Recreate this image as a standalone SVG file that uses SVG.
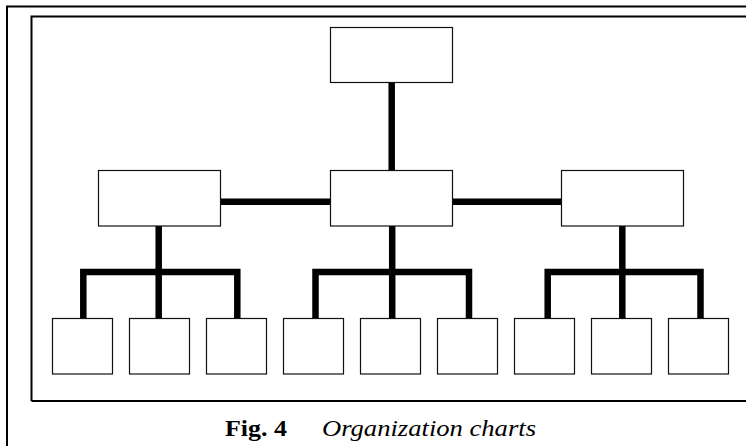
<svg xmlns="http://www.w3.org/2000/svg" width="746" height="446" viewBox="0 0 746 446">
<style>
.frame{fill:none;stroke:#000;stroke-width:2}
.box{fill:#fff;stroke:#111;stroke-width:1.2}
.conn{fill:none;stroke:#000;stroke-width:6.5;stroke-linejoin:miter;stroke-linecap:butt}
.cap{font-size:24px;fill:#000}
</style>
<rect width="746" height="446" fill="#fff"/>
<path class="frame" d="M7 446 V6.5 H746"/>
<path class="frame" d="M31.5 401 V16.5 H746 M31.5 401 H746"/>
<g id="connectors">
<path class="conn" d="M391.7 82 V170"/>
<path class="conn" d="M221 201.7 H330 M453 201.7 H561"/>
<path class="conn" d="M158.7 226 V272"/>
<path class="conn" d="M83.3 318 V272 H237.3 V318 M158.7 272 V318"/>
<path class="conn" d="M392.2 226 V272"/>
<path class="conn" d="M315.5 318 V272 H469 V318 M392.2 272 V318"/>
<path class="conn" d="M622.3 226 V272"/>
<path class="conn" d="M547.7 318 V272 H700.5 V318 M622.3 272 V318"/>
</g>
<g id="top"><rect class="box" x="330.5" y="27.5" width="122" height="55"/></g>
<g id="mid-left"><rect class="box" x="98.5" y="170.5" width="122" height="55.5"/></g>
<g id="mid-center"><rect class="box" x="330.5" y="170.5" width="122" height="55.5"/></g>
<g id="mid-right"><rect class="box" x="561.5" y="170.5" width="122" height="55.5"/></g>
<g id="b1"><rect class="box" x="52.5" y="318.5" width="60" height="55.5"/></g>
<g id="b2"><rect class="box" x="129.5" y="318.5" width="60" height="55.5"/></g>
<g id="b3"><rect class="box" x="206.5" y="318.5" width="60" height="55.5"/></g>
<g id="b4"><rect class="box" x="283.5" y="318.5" width="60" height="55.5"/></g>
<g id="b5"><rect class="box" x="360.5" y="318.5" width="60" height="55.5"/></g>
<g id="b6"><rect class="box" x="437.5" y="318.5" width="60" height="55.5"/></g>
<g id="b7"><rect class="box" x="514.5" y="318.5" width="60" height="55.5"/></g>
<g id="b8"><rect class="box" x="591.5" y="318.5" width="60" height="55.5"/></g>
<g id="b9"><rect class="box" x="668.5" y="318.5" width="60" height="55.5"/></g>
<g id="caption">
<text class="cap" x="225" y="436" font-family="'Liberation Serif', 'Times New Roman', serif" font-weight="bold" textLength="62" lengthAdjust="spacingAndGlyphs">Fig. 4</text>
<text class="cap" x="322" y="436" font-family="'Liberation Serif', 'Times New Roman', serif" font-style="italic" textLength="214" lengthAdjust="spacingAndGlyphs">Organization charts</text>
</g>
</svg>
